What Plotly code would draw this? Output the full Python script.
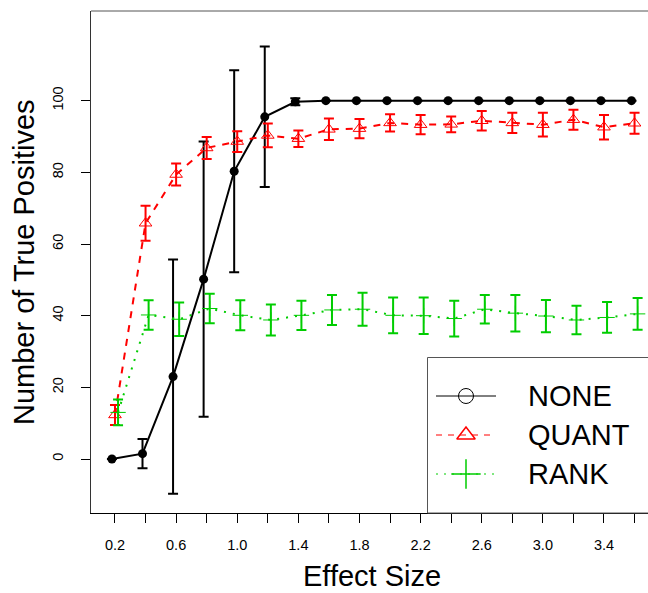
import plotly.graph_objects as go

# ---------------- data ----------------
effect_size = [0.2, 0.4, 0.6, 0.8, 1.0, 1.2, 1.4, 1.6, 1.8, 2.0,
               2.2, 2.4, 2.6, 2.8, 3.0, 3.2, 3.4, 3.6]
tick_labels = ["0.2", "", "0.6", "", "1.0", "", "1.4", "", "1.8", "",
               "2.2", "", "2.6", "", "3.0", "", "3.4", ""]

none_mean = [0.0, 1.5, 23.0, 50.2, 80.3, 95.5, 99.7, 100, 100, 100,
             100, 100, 100, 100, 100, 100, 100, 100]
none_err = [None, 4.1, 32.7, 38.4, 28.2, 19.6, 1.0, None, None, None,
            None, None, None, None, None, None, None, None]

quant_mean = [12.3, 65.8, 79.4, 86.8, 88.6, 90.3, 89.4, 92.0, 92.2, 93.8,
              93.3, 93.4, 94.4, 93.8, 93.3, 94.7, 92.6, 93.7]
quant_err = [2.8, 4.9, 3.1, 3.1, 2.9, 3.3, 2.3, 3.0, 2.7, 2.4,
             2.7, 2.2, 2.7, 2.8, 3.3, 2.8, 3.4, 2.9]

rank_mean = [13.0, 40.2, 39.0, 42.0, 40.1, 38.8, 40.1, 41.6, 41.8, 40.1,
             40.0, 39.2, 41.8, 40.7, 39.9, 38.8, 39.5, 40.5]
rank_err = [3.6, 4.1, 4.7, 4.1, 4.2, 4.3, 4.1, 4.2, 4.6, 5.0,
            5.1, 5.0, 4.0, 5.1, 4.5, 4.0, 4.3, 4.4]

series_names = ["NONE", "QUANT", "RANK"]
dodge = 0.02

# ---------------- styles ----------------
FONT = "Liberation Sans, Arial, Helvetica, sans-serif"
BLACK = "#000000"
RED = "#FF0000"
GREEN = "#00CD00"

W, H = 648, 593
ML, MR, MT, MB = 91, 0, 11, 80
PW, PH = W - ML - MR, H - MT - MB


def px(xp):
    """pixel x -> paper x"""
    return (xp - ML) / PW


def py(yp):
    """pixel y -> paper y"""
    return (H - MB - yp) / PH


fig = go.Figure()

fig.add_trace(go.Scatter(
    x=[v - dodge for v in effect_size], y=none_mean, mode="lines+markers",
    line=dict(color=BLACK, width=2),
    marker=dict(symbol="circle", size=9, color=BLACK),
    error_y=dict(type="data", array=none_err, visible=True, color=BLACK,
                 thickness=2, width=5),
    showlegend=False))

fig.add_trace(go.Scatter(
    x=effect_size, y=quant_mean, mode="lines+markers",
    line=dict(color=RED, width=2, dash="7px,7px"),
    marker=dict(symbol="triangle-up-open", size=11, color=RED,
                line=dict(width=1, color=RED)),
    error_y=dict(type="data", array=quant_err, visible=True, color=RED,
                 thickness=2, width=5),
    showlegend=False))

fig.add_trace(go.Scatter(
    x=[v + dodge for v in effect_size], y=rank_mean, mode="lines+markers",
    line=dict(color=GREEN, width=2, dash="2px,7px"),
    marker=dict(symbol="cross-thin-open", size=11, color=GREEN,
                line=dict(width=1, color=GREEN)),
    error_y=dict(type="data", array=rank_err, visible=True, color=GREEN,
                 thickness=2, width=5),
    showlegend=False))

# ---------------- legend (drawn on a pixel overlay axis) ----------------
leg_rows = [396, 435, 474]
leg_line_x = [436, 496]
leg_sym_x = 466
leg_text_x = 526
leg_styles = [
    dict(line=dict(color=BLACK, width=1),
         marker=dict(symbol="circle-open", size=15, color=BLACK, line=dict(width=1, color=BLACK))),
    dict(line=dict(color=RED, width=1, dash="6px,6px"),
         marker=dict(symbol="triangle-up-open", size=16, color=RED, line=dict(width=1.5, color=RED))),
    dict(line=dict(color=GREEN, width=1, dash="2px,6px"),
         marker=dict(symbol="cross-thin-open", size=21, color=GREEN, line=dict(width=1.5, color=GREEN))),
]
for name, ry, st in zip(series_names, leg_rows, leg_styles):
    fig.add_trace(go.Scatter(x=leg_line_x, y=[ry, ry], mode="lines", line=st["line"],
                             xaxis="x2", yaxis="y2", showlegend=False, hoverinfo="skip"))
    fig.add_trace(go.Scatter(x=[leg_sym_x], y=[ry], mode="markers", marker=st["marker"],
                             xaxis="x2", yaxis="y2", showlegend=False, hoverinfo="skip"))
    fig.add_annotation(x=px(leg_text_x), y=py(ry), xref="paper", yref="paper", text=name,
                       showarrow=False, xanchor="left", yanchor="middle",
                       font=dict(family=FONT, size=29, color=BLACK))

shapes = [
    # legend box
    dict(type="rect", xref="paper", yref="paper", x0=px(427.5), x1=px(700),
         y0=py(513), y1=py(357.5),
         line=dict(color="#555555", width=1), fillcolor="rgba(0,0,0,0)"),
    # top frame line
    dict(type="line", xref="paper", yref="paper", x0=0, x1=1, y0=1, y1=1,
         line=dict(color="#555555", width=1)),
]

# titles
fig.add_annotation(x=px(372), y=py(576), xref="paper", yref="paper", text="Effect Size",
                   showarrow=False, xanchor="center", yanchor="middle",
                   font=dict(family=FONT, size=29, color=BLACK))
fig.add_annotation(x=px(24), y=py(262), xref="paper", yref="paper",
                   text="Number of True Positives",
                   showarrow=False, xanchor="center", yanchor="middle", textangle=-90,
                   font=dict(family=FONT, size=29, color=BLACK))

fig.update_layout(
    width=W, height=H,
    margin=dict(l=ML, r=MR, t=MT, b=MB, pad=0),
    paper_bgcolor="white", plot_bgcolor="white",
    font=dict(family=FONT, color=BLACK),
    shapes=shapes,
    xaxis=dict(range=[0.043, 3.688], tickvals=effect_size, ticktext=tick_labels,
               ticks="outside", ticklen=9, tickwidth=1, tickcolor=BLACK,
               showgrid=False, zeroline=False, showline=True, linecolor=BLACK,
               linewidth=1, mirror=False, tickfont=dict(size=14.5, family=FONT),
               ticklabelstandoff=10),
    yaxis=dict(range=[-15.07, 125.03], tickvals=[0, 20, 40, 60, 80, 100],
               ticktext=["0", "20", "40", "60", "80", "100"],
               ticks="outside", ticklen=9, tickwidth=1, tickcolor=BLACK,
               showgrid=False, zeroline=False, showline=True, linecolor="#333333",
               linewidth=1, tickangle=-90, tickfont=dict(size=14.5, family=FONT),
               ticklabelstandoff=12),
    xaxis2=dict(range=[ML, W], overlaying="x", visible=False, anchor="y2"),
    yaxis2=dict(range=[H - MB, MT], overlaying="y", visible=False, anchor="x2"),
)

fig.write_html("out.html")
